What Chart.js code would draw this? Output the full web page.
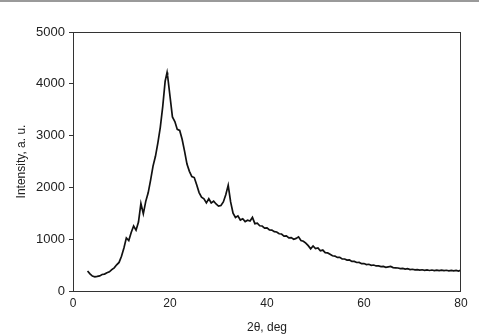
<!DOCTYPE html>
<html>
<head>
<meta charset="utf-8">
<script src="https://cdn.jsdelivr.net/npm/chart.js@4"></script>
<style>
html, body { margin: 0; padding: 0; background: #fff; }
body { width: 479px; height: 336px; overflow: hidden; position: relative; }
#topbar { position: absolute; left: 0; top: 0; width: 479px; height: 2px; background: #9a9a9a; }
canvas { display: block; }
</style>
</head>
<body>
<div id="topbar"></div>
<canvas id="xrd" width="479" height="336"></canvas>
<script>
// 2theta positions (deg), every 0.5 deg
const twoTheta = [
  3, 3.5, 4, 4.5, 5, 5.5, 6, 6.5, 7, 7.5,
  8, 8.5, 9, 9.5, 10, 10.5, 11, 11.5, 12, 12.5,
  13, 13.5, 14, 14.5, 15, 15.5, 16, 16.5, 17, 17.5,
  18, 18.5, 19, 19.4, 19.5, 20, 20.5, 21, 21.5, 22, 22.5,
  23, 23.5, 24, 24.5, 25, 25.5, 26, 26.5, 27, 27.5,
  28, 28.5, 29, 29.5, 30, 30.5, 31, 31.5, 32, 32.5,
  33, 33.5, 34, 34.5, 35, 35.5, 36, 36.5, 37, 37.5,
  38, 38.5, 39, 39.5, 40, 40.5, 41, 41.5, 42, 42.5,
  43, 43.5, 44, 44.5, 45, 45.5, 46, 46.5, 47, 47.5,
  48, 48.5, 49, 49.5, 50, 50.5, 51, 51.5, 52, 52.5,
  53, 53.5, 54, 54.5, 55, 55.5, 56, 56.5, 57, 57.5,
  58, 58.5, 59, 59.5, 60, 60.5, 61, 61.5, 62, 62.5,
  63, 63.5, 64, 64.5, 65, 65.5, 66, 66.5, 67, 67.5,
  68, 68.5, 69, 69.5, 70, 70.5, 71, 71.5, 72, 72.5,
  73, 73.5, 74, 74.5, 75, 75.5, 76, 76.5, 77, 77.5,
  78, 78.5, 79, 79.5, 80
];
// intensity, a.u.
const intensity = [
  385, 330, 288, 272, 281, 292, 318, 326, 352, 370,
  412, 447, 505, 552, 670, 830, 1025, 975, 1130, 1255,
  1175, 1330, 1690, 1490, 1730, 1895, 2140, 2410, 2600, 2860,
  3160, 3560, 4050, 4220, 4160, 3760, 3360, 3270, 3120, 3100, 2930,
  2700, 2450, 2310, 2210, 2190, 2050, 1900, 1810, 1780, 1700,
  1780, 1700, 1735, 1680, 1640, 1650, 1720, 1860, 2040, 1720,
  1500, 1420, 1450, 1370, 1395, 1340, 1365, 1350, 1420, 1300,
  1310, 1260, 1255, 1215, 1220, 1180, 1175, 1145, 1140, 1105,
  1100, 1060, 1065, 1025, 1030, 1000, 1015, 1045, 975, 960,
  925, 875, 815, 870, 820, 830, 775, 790, 740, 735,
  710, 680, 675, 648, 650, 620, 618, 596, 600, 572,
  572, 550, 552, 528, 530, 510, 516, 496, 502, 484,
  486, 470, 476, 458, 466, 474, 452, 448, 444, 432,
  436, 422, 430, 414, 420, 408, 414, 404, 410, 400,
  406, 396, 405, 394, 404, 393, 402, 392, 400, 390,
  398, 388, 396, 386, 402
];
const xTicks = [0, 20, 40, 60, 80];
const yTicks = [0, 1000, 2000, 3000, 4000, 5000];

const points = twoTheta.map((t, i) => ({x: t, y: intensity[i]}));

// box round the plot area
const frame = {
  id: 'frame',
  afterDatasetsDraw(chart) {
    const a = chart.chartArea, ctx = chart.ctx;
    ctx.save();
    ctx.strokeStyle = '#333';
    ctx.lineWidth = 1;
    ctx.strokeRect(a.left + 0.5, a.top + 0.5, a.right - a.left - 1, a.bottom - a.top);
    ctx.restore();
  }
};

const font = {family: '"Liberation Sans", Arial, sans-serif', size: 12};

new Chart(document.getElementById('xrd').getContext('2d'), {
  type: 'line',
  data: {
    datasets: [{
      data: points,
      borderColor: '#111',
      borderWidth: 1.7,
      pointRadius: 0,
      tension: 0,
      fill: false
    }]
  },
  options: {
    responsive: false,
    animation: false,
    layout: {padding: {top: 32, right: 18, left: 0, bottom: 0}},
    plugins: {legend: {display: false}, tooltip: {enabled: false}},
    scales: {
      x: {
        type: 'linear',
        min: xTicks[0],
        max: xTicks[xTicks.length - 1],
        afterBuildTicks: s => { s.ticks = xTicks.map(v => ({value: v})); },
        afterFit: s => { s.height = 45; },
        border: {display: false},
        grid: {display: false, drawTicks: false},
        ticks: {color: '#222', font: font, padding: 5, maxRotation: 0, callback: v => String(v)},
        title: {display: true, text: '2θ, deg', color: '#222', font: font, padding: {top: 0, bottom: 1}}
      },
      y: {
        min: yTicks[0],
        max: yTicks[yTicks.length - 1],
        afterBuildTicks: s => { s.ticks = yTicks.map(v => ({value: v})); },
        afterFit: s => { s.width = 73; },
        border: {display: false},
        grid: {drawOnChartArea: false, drawTicks: true, tickLength: 4, color: '#333'},
        ticks: {color: '#222', font: {family: font.family, size: 13}, padding: 4, callback: v => String(v)},
        title: {display: true, text: 'Intensity, a. u.', color: '#222', font: font, padding: {top: 14, bottom: 0}}
      }
    }
  },
  plugins: [frame]
});
</script>
</body>
</html>
